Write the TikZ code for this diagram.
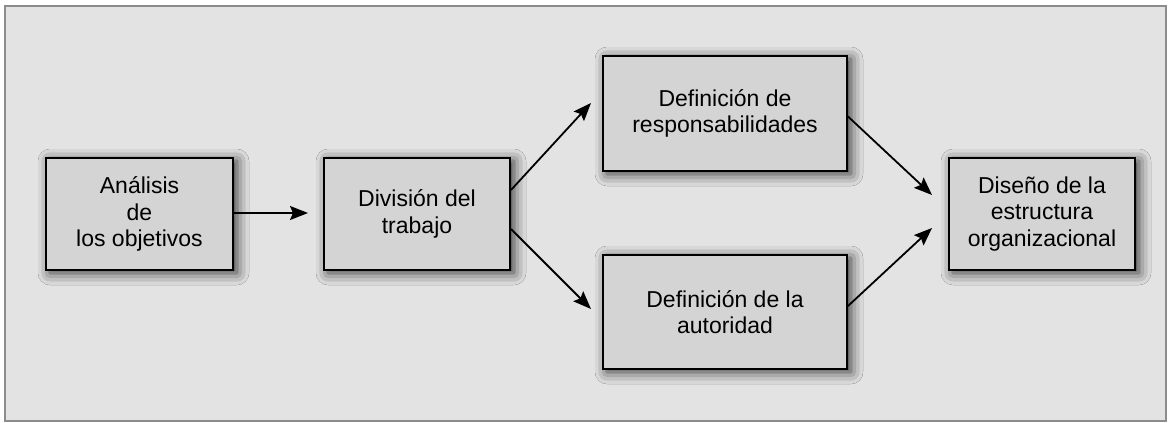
\documentclass[tikz,border=0pt]{standalone}
\usepackage{fontspec}
\setmainfont{Liberation Sans}
\usetikzlibrary{arrows.meta,shadows.blur}
\definecolor{bgc}{HTML}{E3E3E3}
\definecolor{boxc}{HTML}{D4D4D4}
\definecolor{framec}{HTML}{8C8C8C}
\tikzset{
  stepbox/.style={draw=black, line width=2pt, fill=boxc, rectangle, align=center,
    font=\fontsize{23}{26.7}\selectfont, inner sep=0pt,
    blur shadow={shadow xshift=4pt, shadow yshift=-3pt, shadow blur radius=12pt, shadow opacity=80}},
  conn/.style={line width=1.8pt, -{Stealth[length=18pt,width=14pt,inset=3pt]}}
}
\begin{document}
\begin{tikzpicture}[x=1pt,y=-1pt]
\useasboundingbox (0,0) rectangle (1176,423);
\fill[white] (0,0) rectangle (1176,423);
\draw[framec, fill=bgc, line width=2pt] (5,6) rectangle (1166,421);
\node[stepbox, minimum width=187pt, minimum height=112pt] (a) at (139.5,214) {Análisis\\de\\los objetivos};
\node[stepbox, minimum width=186pt, minimum height=112pt] (b) at (417,214) {División del\\trabajo};
\node[stepbox, minimum width=244pt, minimum height=115pt] (c) at (725,113.5) {Definición de\\responsabilidades};
\node[stepbox, minimum width=244pt, minimum height=114pt] (d) at (725,312) {Definición de la\\autoridad};
\node[stepbox, minimum width=186pt, minimum height=112pt] (e) at (1042,214) {Diseño de la\\estructura\\organizacional};
\coordinate (tb) at (308,213);
\coordinate (tc) at (591,103);
\coordinate (td) at (591,309);
\coordinate (te1) at (932,195);
\coordinate (te2) at (932,228);
\draw[conn] (a.east |- tb) -- (tb);
\draw[conn] ([yshift=24pt]b.east) -- (tc);
\draw[conn] ([yshift=-15pt]b.east) -- (td);
\draw[conn] ([yshift=-3pt]c.east) -- (te1);
\draw[conn] ([yshift=6pt]d.east) -- (te2);
\end{tikzpicture}
\end{document}
